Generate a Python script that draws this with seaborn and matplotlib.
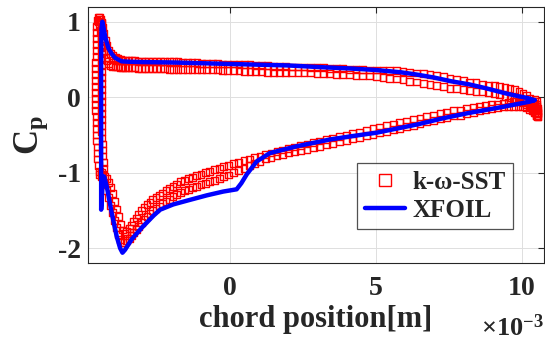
import numpy as np
import pandas as pd
import matplotlib
matplotlib.use("Agg")
import matplotlib.pyplot as plt
from matplotlib.ticker import ScalarFormatter
from matplotlib.lines import Line2D
import seaborn as sns

# ---------------------------------------------------------------------------
# data, chord position in mm (converted to m below)

# k-w-SST, upper side (two rows of points share the same x)
up_x = [-4.48, -4.45, -4.42, -4.38, -4.34, -4.30, -4.25, -4.20, -4.14, -4.08,
        -4.00, -3.92, -3.84, -3.75, -3.66, -3.56, -3.46, -3.36, -3.25, -3.14,
        -3.02, -2.90, -2.77, -2.64, -2.50, -2.36, -2.22, -2.07, -1.92, -1.77,
        -1.61, -1.45, -1.29, -1.12, -0.95, -0.78, -0.60, -0.42, -0.24, -0.06,
        0.13, 0.32, 0.51, 0.70, 0.90, 1.10, 1.30, 1.50, 1.71, 1.92,
        2.13, 2.34, 2.55, 2.77, 2.99, 3.21, 3.43, 3.65, 3.87, 4.10,
        4.33, 4.56, 4.79, 5.02, 5.25, 5.48, 5.71, 5.94, 6.17, 6.40,
        6.63, 6.86, 7.09, 7.32, 7.55, 7.78, 8.00, 8.22, 8.44, 8.65,
        8.86, 9.06, 9.25, 9.43, 9.60, 9.76, 9.91, 10.05, 10.18, 10.29,
        10.38, 10.45, 10.50, 10.54]
up_cp_a = [1.05, 1.05, 1.03, 0.99, 0.92, 0.84, 0.75, 0.68, 0.62, 0.58,
           0.55, 0.53, 0.51, 0.50, 0.49, 0.49, 0.49, 0.49, 0.49, 0.48,
           0.48, 0.48, 0.48, 0.48, 0.48, 0.47, 0.47, 0.47, 0.47, 0.47,
           0.46, 0.46, 0.46, 0.46, 0.45, 0.45, 0.45, 0.45, 0.44, 0.44,
           0.44, 0.43, 0.43, 0.43, 0.42, 0.42, 0.42, 0.41, 0.41, 0.41,
           0.40, 0.40, 0.40, 0.39, 0.39, 0.39, 0.38, 0.38, 0.38, 0.37,
           0.37, 0.37, 0.36, 0.36, 0.36, 0.35, 0.35, 0.34, 0.33, 0.32,
           0.31, 0.30, 0.29, 0.27, 0.25, 0.23, 0.22, 0.20, 0.19, 0.17,
           0.16, 0.15, 0.14, 0.13, 0.12, 0.10, 0.08, 0.05, 0.02, -0.02,
           -0.06, -0.10, -0.15, -0.20]
up_cp_b = [1.00, 0.96, 0.88, 0.78, 0.68, 0.60, 0.53, 0.48, 0.44, 0.42,
           0.41, 0.40, 0.40, 0.39, 0.39, 0.39, 0.39, 0.39, 0.39, 0.38,
           0.38, 0.38, 0.38, 0.38, 0.38, 0.38, 0.38, 0.37, 0.37, 0.37,
           0.37, 0.37, 0.37, 0.36, 0.36, 0.36, 0.36, 0.36, 0.35, 0.35,
           0.35, 0.35, 0.34, 0.34, 0.34, 0.34, 0.33, 0.33, 0.33, 0.33,
           0.32, 0.32, 0.32, 0.32, 0.31, 0.31, 0.31, 0.30, 0.30, 0.30,
           0.29, 0.28, 0.28, 0.27, 0.26, 0.25, 0.24, 0.23, 0.21, 0.20,
           0.18, 0.17, 0.15, 0.14, 0.12, 0.11, 0.10, 0.09, 0.08, 0.07,
           0.06, 0.05, 0.03, 0.01, 0.00, -0.02, -0.04, -0.07, -0.10, -0.13,
           -0.17, -0.21, -0.24, -0.26]

# k-w-SST, lower side
lo_x = [-4.45, -4.40, -4.34, -4.28, -4.22, -4.15, -4.08, -4.01, -3.94, -3.87,
        -3.80, -3.73, -3.66, -3.59, -3.52, -3.44, -3.36, -3.28, -3.20, -3.11,
        -3.02, -2.93, -2.83, -2.73, -2.63, -2.52, -2.41, -2.30, -2.18, -2.06,
        -1.94, -1.81, -1.68, -1.55, -1.41, -1.27, -1.13, -0.98, -0.83, -0.68,
        -0.52, -0.36, -0.20, -0.03, 0.14, 0.31, 0.49, 0.67, 0.85, 1.04,
        1.23, 1.42, 1.62, 1.82, 2.02, 2.23, 2.44, 2.65, 2.87, 3.09,
        3.31, 3.53, 3.76, 3.99, 4.22, 4.45, 4.68, 4.91, 5.14, 5.37,
        5.60, 5.83, 6.06, 6.29, 6.52, 6.75, 6.98, 7.21, 7.44, 7.67,
        7.90, 8.12, 8.34, 8.56, 8.77, 8.98, 9.18, 9.37, 9.55, 9.72,
        9.88, 10.03, 10.16, 10.28, 10.38, 10.46, 10.52, 10.56]
lo_cp_a = [-0.98, -1.00, -1.02, -1.05, -1.08, -1.13, -1.20, -1.28, -1.38, -1.48,
           -1.58, -1.68, -1.76, -1.80, -1.78, -1.74, -1.70, -1.65, -1.60, -1.55,
           -1.50, -1.46, -1.42, -1.39, -1.36, -1.33, -1.30, -1.27, -1.24, -1.21,
           -1.18, -1.15, -1.12, -1.10, -1.08, -1.06, -1.04, -1.02, -1.00, -0.98,
           -0.96, -0.94, -0.92, -0.90, -0.88, -0.86, -0.84, -0.82, -0.80, -0.78,
           -0.76, -0.74, -0.72, -0.70, -0.68, -0.66, -0.64, -0.62, -0.60, -0.58,
           -0.56, -0.54, -0.52, -0.50, -0.48, -0.46, -0.44, -0.42, -0.40, -0.38,
           -0.36, -0.34, -0.32, -0.30, -0.28, -0.26, -0.24, -0.22, -0.20, -0.18,
           -0.17, -0.15, -0.14, -0.12, -0.11, -0.10, -0.09, -0.08, -0.07, -0.06,
           -0.06, -0.06, -0.06, -0.07, -0.08, -0.10, -0.12, -0.15]
lo_cp_b = [-1.02, -1.05, -1.10, -1.16, -1.24, -1.33, -1.43, -1.53, -1.63, -1.73,
           -1.82, -1.89, -1.92, -1.92, -1.90, -1.87, -1.83, -1.79, -1.75, -1.71,
           -1.66, -1.62, -1.58, -1.54, -1.50, -1.47, -1.44, -1.41, -1.38, -1.35,
           -1.32, -1.29, -1.26, -1.24, -1.22, -1.20, -1.18, -1.16, -1.14, -1.12,
           -1.10, -1.08, -1.05, -1.03, -1.00, -0.97, -0.94, -0.91, -0.88, -0.85,
           -0.82, -0.80, -0.78, -0.76, -0.74, -0.72, -0.71, -0.69, -0.67, -0.65,
           -0.63, -0.61, -0.59, -0.57, -0.55, -0.53, -0.51, -0.49, -0.47, -0.45,
           -0.43, -0.41, -0.39, -0.37, -0.35, -0.33, -0.31, -0.29, -0.27, -0.25,
           -0.24, -0.22, -0.20, -0.18, -0.17, -0.15, -0.14, -0.13, -0.12, -0.12,
           -0.12, -0.13, -0.14, -0.16, -0.18, -0.21, -0.24, -0.26]

# k-w-SST, points packed at the leading edge
le_left_x = [-4.54, -4.55, -4.56, -4.56, -4.57, -4.57, -4.57, -4.58, -4.58, -4.58,
             -4.58, -4.58, -4.58, -4.58, -4.58, -4.58, -4.57, -4.57, -4.56, -4.56,
             -4.55, -4.54, -4.53, -4.52, -4.50]
le_left_cp = [1.02, 0.94, 0.86, 0.78, 0.70, 0.62, 0.54, 0.46, 0.38, 0.30,
              0.22, 0.14, 0.06, -0.02, -0.10, -0.18, -0.26, -0.34, -0.42, -0.50,
              -0.58, -0.66, -0.74, -0.82, -0.90]
le_right_x = [-4.38, -4.38, -4.39, -4.39, -4.40, -4.40, -4.40, -4.40, -4.40, -4.40,
              -4.40, -4.40, -4.40, -4.40, -4.40, -4.39, -4.39, -4.38, -4.38, -4.37,
              -4.36, -4.35, -4.34, -4.33, -4.32]
le_right_cp = [0.98, 0.90, 0.82, 0.74, 0.66, 0.58, 0.50, 0.42, 0.34, 0.26,
               0.18, 0.10, 0.02, -0.06, -0.14, -0.22, -0.30, -0.38, -0.46, -0.54,
               -0.62, -0.70, -0.78, -0.86, -0.94]

# k-w-SST, points packed at the trailing edge
te_x = [10.30, 10.35, 10.40, 10.42, 10.45, 10.46, 10.48, 10.50, 10.52, 10.53,
        10.55, 10.56]
te_cp = [-0.05, -0.12, -0.08, -0.18, -0.12, -0.03, -0.16, -0.22, -0.10, -0.06,
         -0.18, -0.22]

# XFOIL, one line from trailing edge over the upper side, round the nose, back along the lower side
xf_x = [10.44, 10.20, 9.92, 9.46, 8.76, 8.20, 7.60, 7.00, 6.40, 5.86,
        5.00, 4.12, 3.00, 2.00, 1.00, 0.00, -1.00, -2.00, -3.00, -3.50,
        -3.70, -3.92, -4.05, -4.15, -4.25, -4.32, -4.36, -4.39, -4.40, -4.40,
        -4.40, -4.40, -4.40, -4.36, -4.30, -4.21, -4.04, -3.87, -3.75, -3.67,
        -3.58, -3.35, -3.01, -2.61, -2.38, -1.93, -1.36, -0.78, -0.22, 0.24,
        0.40, 0.59, 0.93, 1.38, 2.30, 3.44, 4.12, 5.04, 6.44, 7.30,
        8.18, 9.34, 10.00, 10.27, 10.44]
xf_cp = [-0.04, -0.01, 0.01, 0.05, 0.12, 0.17, 0.21, 0.26, 0.30, 0.33,
         0.36, 0.38, 0.40, 0.42, 0.43, 0.44, 0.45, 0.46, 0.465, 0.47,
         0.475, 0.52, 0.58, 0.65, 0.78, 0.92, 1.00, 0.90, 0.50, 0.00,
         -0.50, -1.00, -1.49, -1.20, -1.05, -1.18, -1.53, -1.84, -2.00, -2.06,
         -2.02, -1.88, -1.73, -1.57, -1.49, -1.42, -1.36, -1.30, -1.25, -1.22,
         -1.14, -1.02, -0.85, -0.74, -0.65, -0.56, -0.52, -0.47, -0.36, -0.28,
         -0.21, -0.13, -0.08, -0.06, -0.04]

x_ticks = [0, 5e-3, 10e-3]
y_ticks = [-2, -1, 0, 1]
labels = ['k-ω-SST', 'XFOIL']

# ---------------------------------------------------------------------------

sst = pd.DataFrame({
    'x': np.concatenate([up_x, up_x, lo_x, lo_x, le_left_x, le_right_x, te_x]) * 1e-3,
    'cp': np.concatenate([up_cp_a, up_cp_b, lo_cp_a, lo_cp_b, le_left_cp, le_right_cp, te_cp]),
})
xfoil = pd.DataFrame({'x': np.array(xf_x) * 1e-3, 'cp': xf_cp})

sns.set_theme(style="whitegrid")
plt.rcParams['font.family'] = ['Liberation Serif', 'DejaVu Serif']
plt.rcParams['font.weight'] = 'bold'
plt.rcParams['axes.unicode_minus'] = False
plt.rcParams['mathtext.fontset'] = 'custom'
plt.rcParams['mathtext.rm'] = 'Liberation Serif:bold'
plt.rcParams['mathtext.bf'] = 'Liberation Serif:bold'
plt.rcParams['mathtext.it'] = 'Liberation Serif:italic:bold'

dark = (0.15, 0.15, 0.15)

fig = plt.figure(figsize=(5.45, 3.45), dpi=100)
ax = fig.add_axes([0.1615, 0.2368, 0.8368, 0.7420])

sns.scatterplot(data=sst, x='x', y='cp', marker='s', s=24, facecolor='none',
                edgecolor='red', linewidth=1.0, ax=ax, zorder=3)
sns.lineplot(data=xfoil, x='x', y='cp', sort=False, estimator=None,
             color='blue', linewidth=3.2, ax=ax, zorder=4)

ax.set_xlim(-4.85e-3, 10.77e-3)
ax.set_ylim(-2.2, 1.19)
ax.set_xticks(x_ticks)
ax.set_yticks(y_ticks)
fmt = ScalarFormatter(useMathText=True)
fmt.set_powerlimits((-3, -3))
ax.xaxis.set_major_formatter(fmt)
ax.xaxis.get_offset_text().set_visible(False)

ax.set_facecolor('white')
ax.set_axisbelow(True)
ax.grid(True, color=(0.87, 0.87, 0.87), linewidth=0.7)
for sp in ax.spines.values():
    sp.set_visible(True)
    sp.set_color(dark)
    sp.set_linewidth(0.8)
ax.tick_params(direction='in', length=4, width=0.8, top=True, right=True,
               color=dark, labelcolor=dark, labelsize=20)
ax.tick_params(axis='x', pad=9)
ax.tick_params(axis='y', pad=5)

# exponent of the x axis, drawn where MATLAB puts it
fig.text(0.997, 0.012, r'$\times\mathdefault{10^{-3}}$', ha='right', va='bottom',
         fontsize=19, fontweight='bold', color=dark)

ax.set_xlabel('chord position[m]', fontsize=22, fontweight='bold', color=dark, labelpad=3)
ax.set_ylabel(r'$\mathbf{C_p}$', fontsize=25, color=dark, labelpad=6)

handles = [
    Line2D([], [], marker='s', linestyle='none', markerfacecolor='none',
           markeredgecolor='red', markersize=8, markeredgewidth=1.0),
    Line2D([], [], color='blue', linewidth=3.2),
]
leg = ax.legend(handles, labels, loc='lower right', bbox_to_anchor=(0.932, 0.133),
                fontsize=18, frameon=True, fancybox=False, handlelength=1.6,
                handletextpad=0.3, borderpad=0.3, labelspacing=0.2, borderaxespad=0)
leg.get_frame().set_edgecolor(dark)
leg.get_frame().set_linewidth(0.9)
for t in leg.get_texts():
    t.set_color(dark)

fig.savefig('out.png', dpi=100)
